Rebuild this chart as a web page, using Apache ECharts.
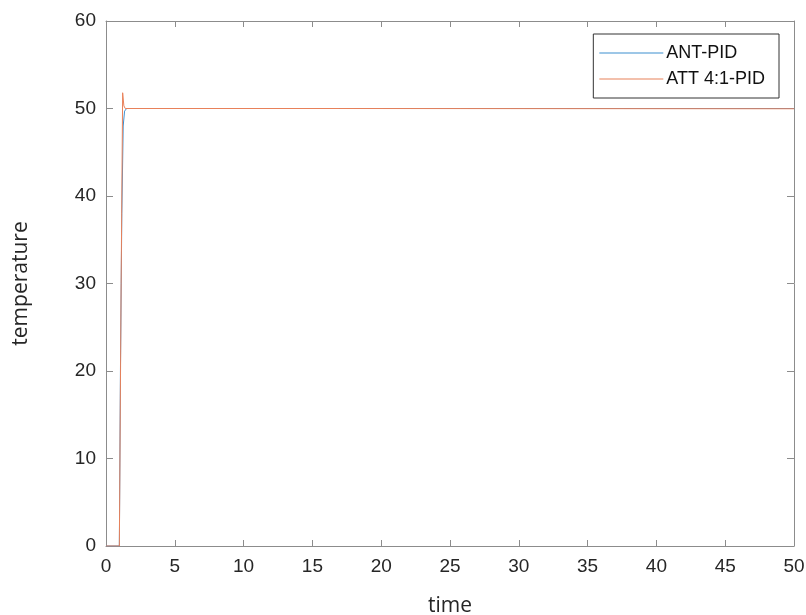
<!DOCTYPE html>
<html>
<head>
<meta charset="utf-8">
<script src="https://cdn.jsdelivr.net/npm/echarts@6/dist/echarts.min.js"></script>
<style>html,body{margin:0;padding:0;background:#fff;}#c{width:806px;height:615px;}</style>
</head>
<body>
<div id="c"></div>
<script>
var seriesNames = ['ANT-PID', 'ATT 4:1-PID'];
var antTime = [0, 0.97, 1.05, 1.15, 1.25, 1.35, 1.5, 50];
var antTemp = [0, 0, 20, 38, 48, 49.7, 50, 50];
var attTime = [0, 0.97, 1.1, 1.21, 1.3, 1.4, 17, 50];
var attTemp = [0, 0, 30, 51.8, 50.3, 50, 50, 49.97];
var xTicks = [0, 5, 10, 15, 20, 25, 30, 35, 40, 45, 50];
var yTicks = [0, 10, 20, 30, 40, 50, 60];

function pairs(t, v) { return t.map(function (x, i) { return [x, v[i]]; }); }

var axisCol = '#8c8c8c';
var labelStyle = { color: '#262626', fontFamily: 'Liberation Sans, Arial', fontSize: 19 };
var chart = echarts.init(document.getElementById('c'));
chart.setOption({
  animation: false,
  backgroundColor: '#fff',
  grid: { left: 106, top: 21, right: 12, bottom: 69, show: false, containLabel: false, outerBoundsMode: 'none' },
  legend: {
    data: seriesNames.map(function (n) { return { name: n, icon: 'rect' }; }),
    orient: 'vertical',
    right: 27, top: 34,
    itemWidth: 64, itemHeight: 1, itemGap: 8,
    padding: [10, 14, 10, 6],
    borderColor: '#333', borderWidth: 1, backgroundColor: '#fff',
    textStyle: { color: '#111', fontFamily: 'Liberation Sans, Arial', fontSize: 18, lineHeight: 18, padding: [0, 0, 0, -2] }
  },
  xAxis: [{
    type: 'value', min: 0, max: 50, interval: 5,
    name: 'time', nameLocation: 'middle', nameGap: 50,
    nameTextStyle: { color: '#262626', fontFamily: 'Open Sans, Liberation Sans', fontSize: 21 },
    axisLine: { show: true, onZero: false, lineStyle: { color: axisCol, width: 1 } },
    axisTick: { show: true, inside: true, length: 6, lineStyle: { color: axisCol } },
    axisLabel: Object.assign({ margin: 11 }, labelStyle),
    splitLine: { show: false }
  }, {
    type: 'value', min: 0, max: 50, interval: 5, position: 'top',
    axisLine: { show: true, onZero: false, lineStyle: { color: axisCol, width: 1 } },
    axisTick: { show: true, inside: true, length: 6, lineStyle: { color: axisCol } },
    axisLabel: { show: false }, splitLine: { show: false }
  }],
  yAxis: [{
    type: 'value', min: 0, max: 60, interval: 10,
    name: 'temperature', nameLocation: 'middle', nameGap: 74,
    nameTextStyle: { color: '#262626', fontFamily: 'Open Sans, Liberation Sans', fontSize: 21 },
    axisLine: { show: true, onZero: false, lineStyle: { color: axisCol, width: 1 } },
    axisTick: { show: true, inside: true, length: 7, lineStyle: { color: axisCol } },
    axisLabel: Object.assign({ margin: 10 }, labelStyle),
    splitLine: { show: false }
  }, {
    type: 'value', min: 0, max: 60, interval: 10, position: 'right',
    axisLine: { show: true, onZero: false, lineStyle: { color: axisCol, width: 1 } },
    axisTick: { show: true, inside: true, length: 7, lineStyle: { color: axisCol } },
    axisLabel: { show: false }, splitLine: { show: false }
  }],
  series: [{
    name: seriesNames[0], type: 'line', showSymbol: false, symbol: 'none',
    data: pairs(antTime, antTemp),
    lineStyle: { color: '#3d8fd0', width: 1 }, itemStyle: { color: '#3d8fd0' }
  }, {
    name: seriesNames[1], type: 'line', showSymbol: false, symbol: 'none',
    data: pairs(attTime, attTemp),
    lineStyle: { color: '#e8815a', width: 1 }, itemStyle: { color: '#e8815a' }
  }]
});
</script>
</body>
</html>
